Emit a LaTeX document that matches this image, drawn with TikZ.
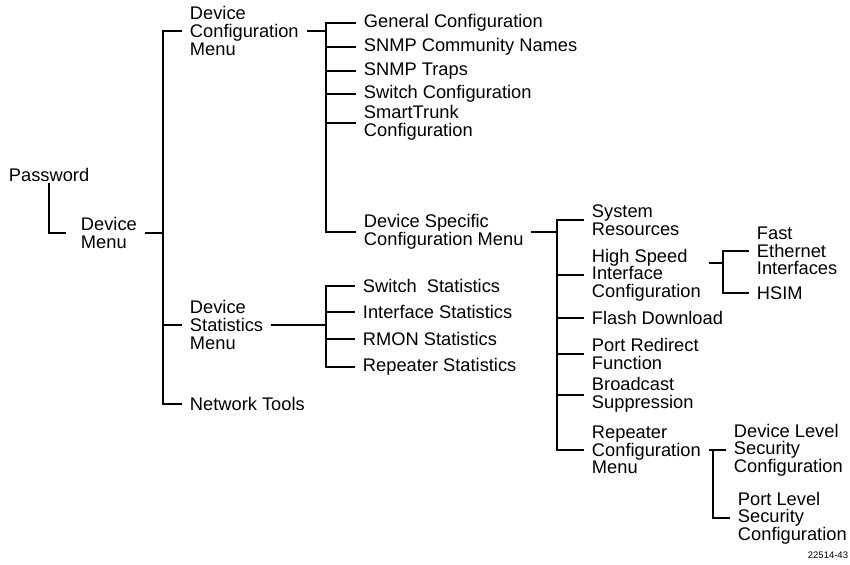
\documentclass[tikz,border=0pt]{standalone}
\usepackage{fontspec}
\setmainfont{Liberation Sans}

\begin{document}
\begin{tikzpicture}[x=0.02cm,y=-0.02cm,line width=1.1pt,
  lbl/.style={font=\fontsize{10.4}{10}\selectfont,align=left,anchor=west,inner xsep=4pt,inner ysep=0pt}]
\useasboundingbox (0,0) rectangle (850,565);
\coordinate (t1) at (163,0);
\coordinate (t2) at (326,0);
\coordinate (t3) at (557,0);
\coordinate (t5) at (723,0);
\coordinate (t6) at (713,0);
\node[lbl] (pw) at (1,175) {Password};
\node[lbl] (dm) at (73,233) {Device\\Menu};
\node[lbl] (dcm) at (182,31) {Device\\Configuration\\Menu};
\node[lbl] (dsm) at (182,325) {Device\\Statistics\\Menu};
\node[lbl] (nt) at (182,404) {Network Tools};
\node[lbl] (gc) at (356,23) {General Configuration};
\node[lbl] (scn) at (356,47) {SNMP Community Names};
\node[lbl] (st) at (356,71) {SNMP Traps};
\node[lbl] (sc) at (356,94) {Switch Configuration};
\node[lbl] (smt) at (356,123) {SmartTrunk\\Configuration};
\node[lbl] (dscm) at (356,232) {Device Specific\\Configuration Menu};
\node[lbl] (ss) at (355,286) {Switch~~Statistics};
\node[lbl] (is) at (355,312) {Interface Statistics};
\node[lbl] (rs) at (355,339) {RMON Statistics};
\node[lbl] (rps) at (355,367) {Repeater Statistics};
\node[lbl] (sr) at (584,220) {System\\Resources};
\node[lbl] (hs) at (584,275) {High Speed\\Interface\\Configuration};
\node[lbl] (fd) at (584,318) {Flash Download};
\node[lbl] (prf) at (584,354) {Port Redirect\\Function};
\node[lbl] (bs) at (584,395) {Broadcast\\Suppression};
\node[lbl] (rcm) at (584,450) {Repeater\\Configuration\\Menu};
\node[lbl] (fei) at (749,251) {Fast\\Ethernet\\Interfaces};
\node[lbl] (hsim) at (749,293) {HSIM};
\node[lbl] (dlsc) at (726,450) {Device Level\\Security\\Configuration};
\node[lbl] (plsc) at (730,518) {Port Level\\Security\\Configuration};
\node[font=\fontsize{5.4}{6}\selectfont,anchor=east,inner sep=0pt] (fig) at (849,555) {22514-43};
\coordinate (hsj) at ([yshift=0.24cm]hs.east);

\draw (pw.south) |- ([xshift=-4pt]dm.west);
\draw (dm.east) -- (dm.east -| t1);
\foreach \c in {dcm,dsm,nt} \draw (dm.east -| t1) |- (\c.west);
\draw (dcm.east) -- (dcm.east -| t2);
\foreach \c in {gc,scn,st,sc,smt,dscm} \draw (dcm.east -| t2) |- (\c.west);
\draw (dsm.east) -- (dsm.east -| t2);
\foreach \c in {ss,is,rs,rps} \draw (dsm.east -| t2) |- (\c.west);
\draw (dscm.east) -- (dscm.east -| t3);
\foreach \c in {sr,hs,fd,prf,bs,rcm} \draw (dscm.east -| t3) |- (\c.west);
\draw (hsj) -- (hsj -| t5);
\foreach \c in {fei,hsim} \draw (hsj -| t5) |- (\c.west);
\draw (rcm.east) -- (dlsc.west);
\draw (rcm.east -| t6) |- (plsc.west);
\end{tikzpicture}
\end{document}
